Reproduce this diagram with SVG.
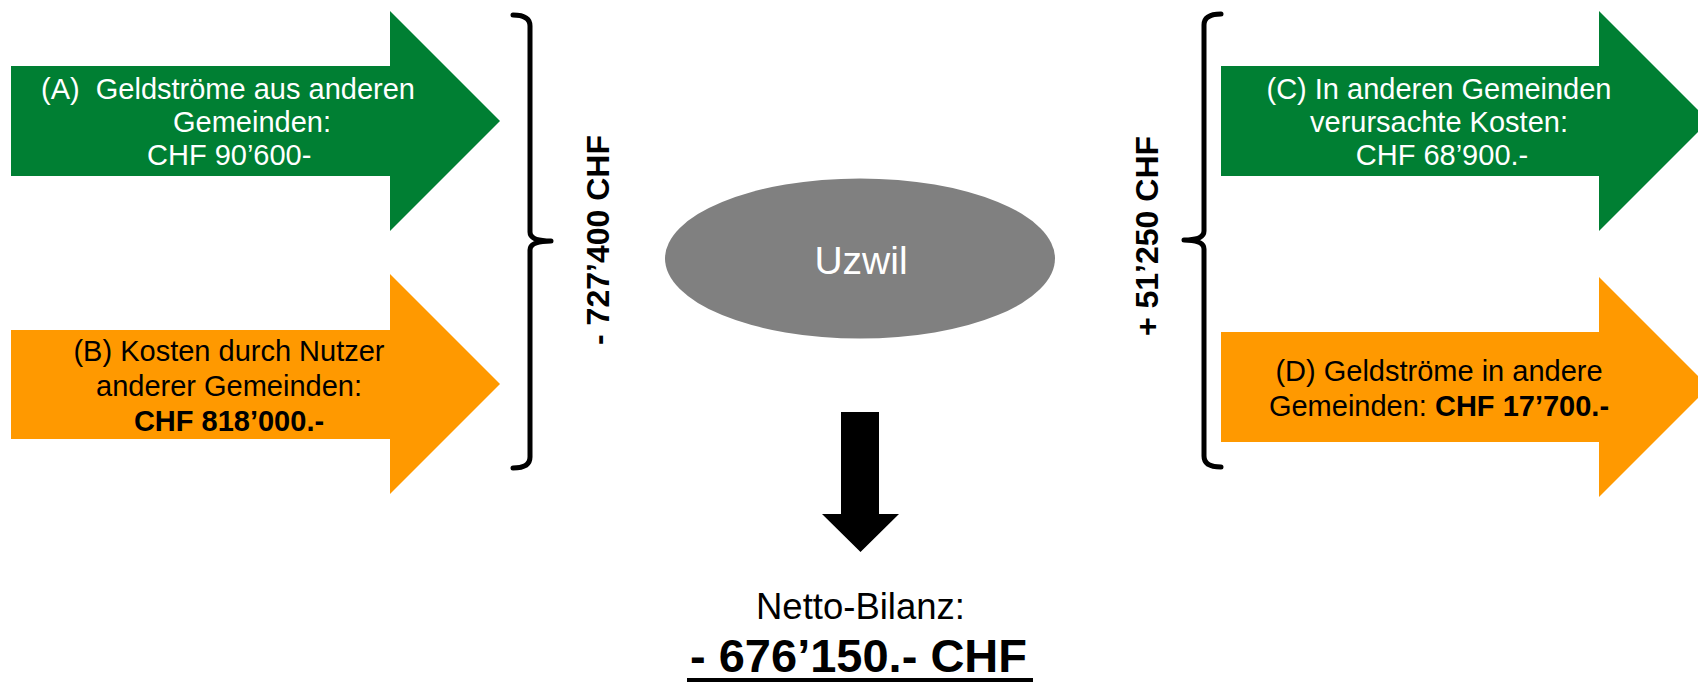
<svg xmlns="http://www.w3.org/2000/svg" width="1698" height="683" viewBox="0 0 1698 683">
<style>
  text { font-family: "Liberation Sans", Arial, sans-serif; }
  .lbl { font-size: 29px; }
  .w { fill: #ffffff; }
  .k { fill: #000000; }
  .b { font-weight: bold; }
  .green { fill: #007F33; }
  .orange { fill: #FF9900; }
  .brace { fill: none; stroke: #000000; stroke-width: 5; stroke-linecap: round; stroke-linejoin: round; }
</style>
<rect width="1698" height="683" fill="#ffffff"/>

<g id="arrowA">
  <polygon class="green" points="11,66 390,66 390,11 500,121 390,231 390,176 11,176"/>
  <text class="lbl w" x="41" y="99">(A)&#160; Geldströme aus anderen</text>
  <text class="lbl w" x="173" y="132">Gemeinden:</text>
  <text class="lbl w" x="147" y="165">CHF 90’600-</text>
</g>

<g id="arrowB">
  <polygon class="orange" points="11,330 390,330 390,274 500,384 390,494 390,439 11,439"/>
  <text class="lbl k" x="229" y="361" text-anchor="middle">(B) Kosten durch Nutzer</text>
  <text class="lbl k" x="229" y="396" text-anchor="middle">anderer Gemeinden:</text>
  <text class="lbl k b" x="229" y="431" text-anchor="middle">CHF 818’000.-</text>
</g>

<g id="arrowC">
  <polygon class="green" points="1221,66 1599,66 1599,11 1709,121 1599,231 1599,176 1221,176"/>
  <text class="lbl w" x="1439" y="99" text-anchor="middle">(C) In anderen Gemeinden</text>
  <text class="lbl w" x="1439" y="132" text-anchor="middle">verursachte Kosten:</text>
  <text class="lbl w" x="1442" y="165" text-anchor="middle">CHF 68’900.-</text>
</g>

<g id="arrowD">
  <polygon class="orange" points="1221,332 1599,332 1599,277 1709,387 1599,497 1599,442 1221,442"/>
  <text class="lbl k" x="1439" y="381" text-anchor="middle">(D) Geldströme in andere</text>
  <text class="lbl k" x="1439" y="416" text-anchor="middle">Gemeinden: <tspan class="b">CHF 17’700.-</tspan></text>
</g>

<g id="uzwil">
  <ellipse cx="860" cy="258.5" rx="195" ry="80" fill="#808080"/>
  <text x="861" y="274" font-size="39" text-anchor="middle" class="w">Uzwil</text>
</g>

<g id="braceLeft">
  <path class="brace" d="M513,15 Q530,15 530,26 L530,232 Q530,241 551,241 Q530,241 530,250 L530,457 Q530,468 513,468"/>
  <text transform="translate(609,240) rotate(-90)" font-size="32" text-anchor="middle" class="k b">- 727’400 CHF</text>
</g>

<g id="braceRight">
  <path class="brace" d="M1221,14 Q1204,14 1204,25 L1204,231 Q1204,240 1184,240 Q1204,240 1204,249 L1204,456 Q1204,467 1221,467"/>
  <text transform="translate(1158,236) rotate(-90)" font-size="32" text-anchor="middle" class="k b">+ 51’250 CHF</text>
</g>

<g id="connectors">
  <polygon points="841,412 879,412 879,514 899,514 860.5,552 822,514 841,514" fill="#000000"/>
</g>

<g id="result">
  <text x="860.5" y="619" font-size="36.5" text-anchor="middle" class="k">Netto-Bilanz:</text>
  <text x="858.5" y="672" font-size="47" text-anchor="middle" class="k b">- 676’150.- CHF</text>
  <rect x="687" y="678" width="346" height="4" fill="#000000"/>
</g>
</svg>
